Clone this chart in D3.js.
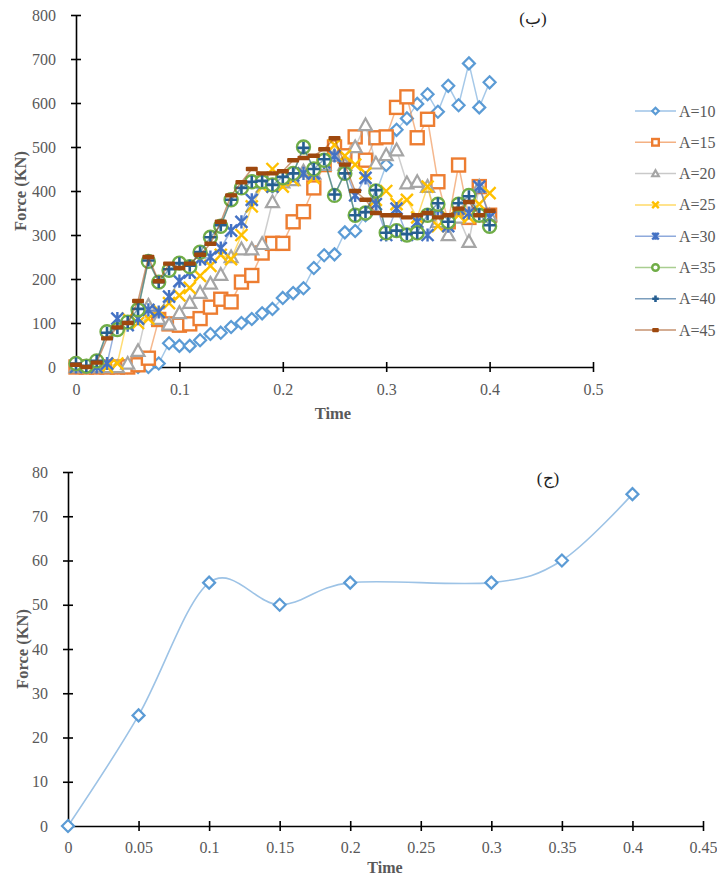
<!DOCTYPE html>
<html><head><meta charset="utf-8">
<script src="https://cdn.jsdelivr.net/npm/d3@7"></script>
<style>
body{margin:0;background:#fff;}
svg{display:block;}
text{font-family:"Liberation Serif","DejaVu Serif",serif;}
</style></head>
<body><svg id="c" width="717" height="878"></svg>
<script>
// ---------- DATA (top chart) ----------
const times = [0,0.01,0.02,0.03,0.04,0.05,0.06,0.07,0.08,0.09,0.1,0.11,0.12,0.13,0.14,0.15,0.16,0.17,0.18,0.19,0.2,0.21,0.22,0.23,0.24,0.25,0.26,0.27,0.28,0.29,0.3,0.31,0.32,0.33,0.34,0.35,0.36,0.37,0.38,0.39,0.4];
const seriesNames = ["A=10","A=15","A=20","A=25","A=30","A=35","A=40","A=45"];
const A10 = [0,0,0,0,0,0,0,0,8,54,48,48,61,75,78,91,100,109,122,132,157,168,179,225,254,256,306,309,345,395,459,539,565,598,620,580,639,595,690,590,647];
const A15 = [0,0,0,0,0,0,5,20,108,98,95,98,110,136,154,148,193,208,259,281,281,330,353,407,460,500,480,523,470,521,523,590,614,521,563,421,330,459,340,410,345];
const A20 = [0,0,0,0,0,8,37,140,110,97,123,146,169,190,210,250,268,268,280,375,420,425,445,440,460,480,460,500,550,463,482,493,418,421,410,330,300,340,285,410,345];
const A25 = [0,0,0,0,8,110,100,110,128,145,163,180,207,230,255,245,300,365,410,450,410,425,440,430,470,505,480,460,440,380,400,370,380,340,410,320,340,345,340,370,395];
const A30 = [0,0,0,8,110,95,110,130,125,160,195,215,245,250,270,310,330,380,420,410,430,435,440,440,465,480,450,390,430,370,300,360,300,330,300,360,320,360,350,410,340];
const A35 = [8,2,14,80,85,102,130,240,193,220,236,228,261,295,320,380,407,421,421,414,430,440,500,450,470,390,440,345,350,400,305,310,300,305,345,370,330,370,390,345,320];
const A40 = [8,2,14,78,88,102,132,242,193,222,236,230,261,295,322,380,407,421,423,414,432,440,498,450,472,392,440,345,352,402,305,310,302,305,347,372,330,372,388,347,322];
const A45 = [5,0,10,65,90,100,150,250,195,235,225,235,255,280,330,390,420,450,440,440,445,470,475,480,495,520,460,400,380,350,345,345,340,345,350,340,345,360,375,345,355];
const topYTicks = [0,100,200,300,400,500,600,700,800];
const topXTicks = [0,0.1,0.2,0.3,0.4,0.5];

// ---------- DATA (bottom chart) ----------
const bTime = [0,0.05,0.1,0.15,0.2,0.3,0.35,0.4];
const bForce = [0,25,55,50,55,55,60,75];
const botYTicks = [0,10,20,30,40,50,60,70,80];
const botXTicks = [0,0.05,0.1,0.15,0.2,0.25,0.3,0.35,0.4,0.45];

const allSeries = [A10,A15,A20,A25,A30,A35,A40,A45];
const styles = [
  {c:"#5B9BD5", m:"diamond"},
  {c:"#ED7D31", m:"square"},
  {c:"#A5A5A5", m:"triangle"},
  {c:"#FFC000", m:"x"},
  {c:"#4472C4", m:"star"},
  {c:"#70AD47", m:"circle"},
  {c:"#255E91", m:"plus"},
  {c:"#9E480E", m:"dash"}
];

const svg = d3.select("#c");
const GRAY = "#595959";
const FONT = "'Liberation Serif','DejaVu Serif',serif";

function drawMarker(g, type, color, x, y, s) {
  if (type==="diamond") {
    g.append("path").attr("d",`M${x},${y-s}L${x+s},${y}L${x},${y+s}L${x-s},${y}Z`)
      .attr("fill","#fff").attr("stroke",color).attr("stroke-width",2.2);
  } else if (type==="square") {
    g.append("rect").attr("x",x-s).attr("y",y-s).attr("width",2*s).attr("height",2*s)
      .attr("fill","#fff").attr("stroke",color).attr("stroke-width",2.4);
  } else if (type==="triangle") {
    g.append("path").attr("d",`M${x},${y-s}L${x+s},${y+s*0.8}L${x-s},${y+s*0.8}Z`)
      .attr("fill","#fff").attr("stroke",color).attr("stroke-width",2.2);
  } else if (type==="x") {
    g.append("path").attr("d",`M${x-s},${y-s}L${x+s},${y+s}M${x-s},${y+s}L${x+s},${y-s}`)
      .attr("stroke",color).attr("stroke-width",2.4).attr("fill","none");
  } else if (type==="star") {
    g.append("path").attr("d",`M${x-s},${y-s}L${x+s},${y+s}M${x-s},${y+s}L${x+s},${y-s}M${x},${y-s*1.1}L${x},${y+s*1.1}`)
      .attr("stroke",color).attr("stroke-width",2.4).attr("fill","none");
  } else if (type==="circle") {
    g.append("circle").attr("cx",x).attr("cy",y).attr("r",s)
      .attr("fill","#fff").attr("stroke",color).attr("stroke-width",2.4);
  } else if (type==="plus") {
    g.append("path").attr("d",`M${x-s},${y}L${x+s},${y}M${x},${y-s}L${x},${y+s}`)
      .attr("stroke",color).attr("stroke-width",2.6).attr("fill","none");
  } else if (type==="dash") {
    g.append("rect").attr("x",x-s).attr("y",y-2.2).attr("width",2*s).attr("height",4.4)
      .attr("rx",1).attr("fill",color);
  }
}
const markerSize = {diamond:6, square:6.5, triangle:6.5, x:6, star:6, circle:6.5, plus:6, dash:6};

function styleAxis(g, vertical) {
  g.select(".domain").attr("stroke","#000").attr("stroke-width",1.6);
  g.selectAll(".tick line").attr("stroke","#000").attr("stroke-width",1.6);
  if (vertical) g.selectAll(".tick line").attr("x1",-5).attr("x2",5);
  else g.selectAll(".tick line").attr("y1",-5).attr("y2",5);
  g.selectAll(".tick text").attr("fill",GRAY).attr("font-size",16).attr("font-family",FONT);
}

// ---------- TOP CHART ----------
const tx = d3.scaleLinear().domain([0,0.5]).range([76,593]);
const ty = d3.scaleLinear().domain([0,800]).range([367,15]);

const gTopX = svg.append("g").attr("transform",`translate(0,${ty(0)})`)
  .call(d3.axisBottom(tx).tickValues(topXTicks).tickFormat(d3.format("")).tickSizeOuter(0).tickPadding(11));
styleAxis(gTopX,false);
const gTopY = svg.append("g").attr("transform",`translate(${tx(0)},0)`)
  .call(d3.axisLeft(ty).tickValues(topYTicks).tickFormat(d3.format("d")).tickSizeOuter(0).tickPadding(14));
styleAxis(gTopY,true);

const lineTop = d3.line().x((d,i)=>tx(times[i])).y(d=>ty(d));
allSeries.forEach((s,k)=>{
  const st = styles[k];
  const g = svg.append("g");
  g.append("path").attr("d",lineTop(s)).attr("fill","none")
    .attr("stroke",st.c).attr("stroke-width",1.5).attr("stroke-opacity",0.55);
  s.forEach((v,i)=>drawMarker(g, st.m, st.c, tx(times[i]), ty(v), markerSize[st.m]));
});

// legend
seriesNames.forEach((n,k)=>{
  const st = styles[k];
  const y = 111 + k*31.3;
  const g = svg.append("g");
  g.append("line").attr("x1",635).attr("x2",676).attr("y1",y).attr("y2",y)
    .attr("stroke",st.c).attr("stroke-width",1.5).attr("stroke-opacity",0.6);
  drawMarker(g, st.m, st.c, 655.5, y, 3.3);
  g.append("text").attr("x",679).attr("y",y+5.5).attr("fill",GRAY).attr("font-size",16).text(n);
});

svg.append("text").attr("x",333).attr("y",419).attr("text-anchor","middle")
  .attr("font-weight","bold").attr("font-size",16.5).attr("fill",GRAY).text("Time");
svg.append("text").attr("transform","translate(26,191) rotate(-90)").attr("text-anchor","middle")
  .attr("font-weight","bold").attr("font-size",16.5).attr("fill",GRAY).text("Force (KN)");
svg.append("text").attr("x",533).attr("y",24).attr("text-anchor","middle")
  .attr("font-size",17).attr("fill","#222").text("(ب)");

// ---------- BOTTOM CHART ----------
const bx = d3.scaleLinear().domain([0,0.45]).range([68,703]);
const by = d3.scaleLinear().domain([0,80]).range([826,472]);

const gBX = svg.append("g").attr("transform",`translate(0,${by(0)})`)
  .call(d3.axisBottom(bx).tickValues(botXTicks).tickFormat(d3.format("")).tickSizeOuter(0).tickPadding(10));
styleAxis(gBX,false);
const gBY = svg.append("g").attr("transform",`translate(${bx(0)},0)`)
  .call(d3.axisLeft(by).tickValues(botYTicks).tickFormat(d3.format("d")).tickSizeOuter(0).tickPadding(14));
styleAxis(gBY,true);

const lineB = d3.line().x((d,i)=>bx(bTime[i])).y(d=>by(d)).curve(d3.curveCatmullRom.alpha(0));
svg.append("path").attr("d",lineB(bForce)).attr("fill","none")
  .attr("stroke","#9DC3E6").attr("stroke-width",1.6);
const gbm = svg.append("g");
bForce.forEach((v,i)=>drawMarker(gbm,"diamond","#5B9BD5",bx(bTime[i]),by(v),6));

svg.append("text").attr("x",385).attr("y",873).attr("text-anchor","middle")
  .attr("font-weight","bold").attr("font-size",16).attr("fill",GRAY).text("Time");
svg.append("text").attr("transform","translate(28,649) rotate(-90)").attr("text-anchor","middle")
  .attr("font-weight","bold").attr("font-size",16.5).attr("fill",GRAY).text("Force (KN)");
svg.append("text").attr("x",548).attr("y",484).attr("text-anchor","middle")
  .attr("font-size",17).attr("fill","#222").text("(ج)");
</script></body></html>
